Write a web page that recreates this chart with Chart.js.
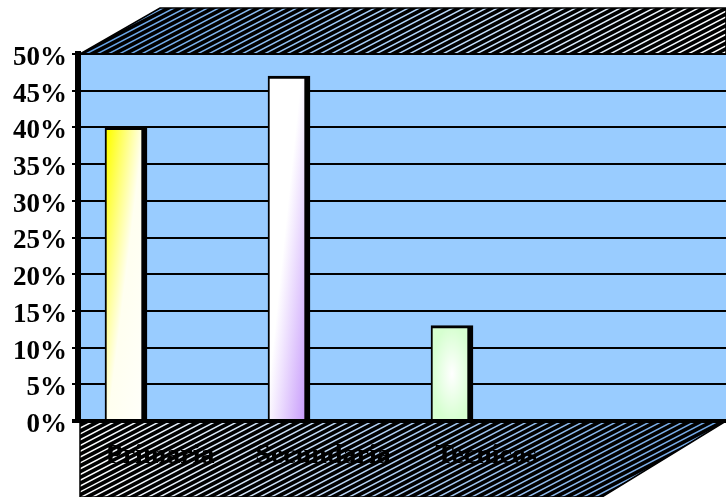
<!DOCTYPE html>
<html>
<head>
<meta charset="utf-8">
<style>
  html, body { margin: 0; background: #fff; }
  #box { width: 726px; height: 497px; }
</style>
<script src="https://cdn.jsdelivr.net/npm/chart.js@4"></script>
</head>
<body>
<div id="box"><canvas id="mainChart"></canvas></div>
<script>
const categories = ['Primaria', 'Secundaria', 'Tecnicos'];
const percentValues = [40, 47, 13];
const yTicks = [0, 5, 10, 15, 20, 25, 30, 35, 40, 45, 50];

// Gradient whose bands run along the bar's diagonal instead of across it
function diagonalGradient(c, x0, y0, x1, y1) {
    const w = x1 - x0, h = y1 - y0;
    const k = 2 * w * h / (w * w + h * h);
    return c.createLinearGradient(x0, y0, x0 + k * h, y0 + k * w);
}

function barFill(context) {
    const chart = context.chart, c = chart.ctx;
    const i = context.dataIndex;
    // Chart.js also resolves this before the scales have pixels
    if (context.type !== 'data' || !chart.chartArea) return '#fff';
    const xPos = chart.scales.x.getPixelForValue(i + 1);
    const x0 = xPos - 18, x1 = xPos + 18;
    const y0 = chart.scales.y.getPixelForValue(percentValues[i]);
    const y1 = chart.scales.y.getPixelForValue(0);
    if (!isFinite(xPos + y0 + y1)) return '#fff';

    if (i === 0) {
        const g = diagonalGradient(c, x0, y0, x1, y1);
        g.addColorStop(0, '#ffff00');
        g.addColorStop(0.5, '#fffff0');
        g.addColorStop(1, '#fffffa');
        return g;
    }
    if (i === 1) {
        const g = diagonalGradient(c, x0, y0, x1, y1);
        g.addColorStop(0, '#ffffff');
        g.addColorStop(0.42, '#ffffff');
        g.addColorStop(1, '#c597fb');
        return g;
    }
    // Tecnicos: oval glow in the middle of the bar
    const tile = document.createElement('canvas');
    tile.width = 40;
    tile.height = Math.ceil(y1 - y0);
    const t = tile.getContext('2d');
    t.fillStyle = '#d6ffd0';
    t.fillRect(0, 0, tile.width, tile.height);
    t.translate(20, tile.height / 2);
    t.scale(1, tile.height / 40);
    const r = t.createRadialGradient(0, 0, 0, 0, 0, 20);
    r.addColorStop(0, '#ffffff');
    r.addColorStop(1, '#d6ffd0');
    t.fillStyle = r;
    t.fillRect(-20, -20, 40, 40);
    const p = c.createPattern(tile, 'no-repeat');
    p.setTransform(new DOMMatrix().translate(xPos - 20, y0));
    return p;
}

// Black panel crossed by thin rising stripes
function hatch(c, points, stripe) {
    c.save();
    c.beginPath();
    points.forEach((p, n) => n ? c.lineTo(p[0], p[1]) : c.moveTo(p[0], p[1]));
    c.closePath();
    c.save();
    c.clip();
    c.fillStyle = '#000';
    c.fillRect(0, 0, 726, 497);
    c.strokeStyle = stripe;
    c.lineWidth = 1.5;
    for (let y = 0; y < 497 + 726 * 0.52; y += 5.8) {
        c.beginPath();
        c.moveTo(0, y);
        c.lineTo(726, y - 726 * 0.52);
        c.stroke();
    }
    c.restore();
    // dark outline round the slanted edge
    c.beginPath();
    points.forEach((p, n) => n ? c.lineTo(p[0], p[1]) : c.moveTo(p[0], p[1]));
    c.closePath();
    c.strokeStyle = '#000';
    c.lineWidth = 1.5;
    c.stroke();
    c.restore();
}

const panelsPlugin = {
    id: 'panels',
    beforeDraw(chart) {
        const c = chart.ctx, a = chart.chartArea;
        const left = a.left + 2;

        c.fillStyle = '#99ccff';
        c.fillRect(left, a.top, a.right - left, a.bottom - a.top);

        const topStripe = c.createLinearGradient(left, 0, a.right, 0);
        topStripe.addColorStop(0, '#5f9fe6');
        topStripe.addColorStop(0.45, '#a8d0fa');
        topStripe.addColorStop(1, '#ffffff');
        hatch(c, [[left, a.top], [left + 80, 8], [a.right, 8], [a.right, a.top]], topStripe);

        const floorStripe = c.createLinearGradient(left, 0, a.right, 0);
        floorStripe.addColorStop(0, '#ffffff');
        floorStripe.addColorStop(0.45, '#b4d2f5');
        floorStripe.addColorStop(1, '#6ea6e6');
        hatch(c, [[left, a.bottom], [a.right, a.bottom], [602, 497], [left, 497]], floorStripe);
    }
};

new Chart(document.getElementById('mainChart'), {
    type: 'bar',
    data: {
        datasets: [{
            data: categories.map((name, i) => ({ x: i + 1, y: percentValues[i] })),
            backgroundColor: barFill,
            borderColor: '#000',
            borderWidth: { left: 2, right: 6, top: 3, bottom: 0 },
            borderSkipped: false,
            barThickness: 42
        }]
    },
    plugins: [panelsPlugin],
    options: {
        responsive: true,
        maintainAspectRatio: false,
        animation: false,
        layout: { padding: { top: 54 } },
        plugins: { legend: { display: false }, tooltip: { enabled: false } },
        scales: {
            x: {
                type: 'linear',
                offset: false,
                min: 0.7055,
                max: 4.681,
                afterFit: s => { s.height = 76; },
                afterBuildTicks: s => { s.ticks = categories.map((name, i) => ({ value: i + 1 })); },
                grid: { display: false },
                border: { display: false },
                ticks: {
                    color: '#000',
                    font: { family: 'Liberation Serif', size: 28, weight: 'bold' },
                    padding: 10,
                    labelOffset: 34,
                    maxRotation: 0,
                    autoSkip: false,
                    callback: v => categories[v - 1]
                }
            },
            y: {
                min: 0,
                max: 50,
                afterFit: s => { s.width = 78; },
                afterBuildTicks: s => { s.ticks = yTicks.map(v => ({ value: v })); },
                grid: {
                    color: '#000',
                    lineWidth: ctx => ctx.tick.value === 0 ? 4 : 2,
                    tickLength: 6
                },
                border: { color: '#000', width: 6 },
                ticks: {
                    color: '#000',
                    font: { family: 'Liberation Serif', size: 27, weight: 'bold' },
                    padding: 5,
                    labelOffset: 4,
                    callback: v => v + '%'
                }
            }
        }
    }
});
</script>
</body>
</html>
